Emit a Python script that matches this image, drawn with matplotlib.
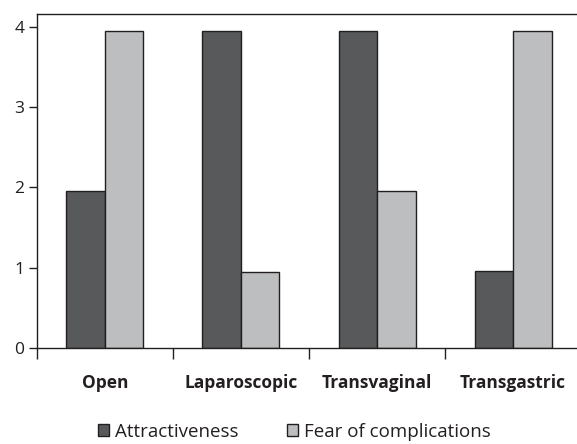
import matplotlib.pyplot as plt
import numpy as np

categories = ['Open', 'Laparoscopic', 'Transvaginal', 'Transgastric']
attractiveness = [1.96, 3.95, 3.95, 0.96]
fear = [3.95, 0.95, 1.96, 3.95]

plt.rcParams['font.family'] = ['Open Sans', 'DejaVu Sans']

fig = plt.figure(figsize=(5.77, 4.44), dpi=100)
ax = fig.add_axes([0.064, 0.216, 0.936, 0.753])

x = np.arange(len(categories))
w = 0.283
ax.bar(x - w / 2, attractiveness, w, color='#58595b', edgecolor='#231f20', linewidth=1,
       label='Attractiveness')
ax.bar(x + w / 2, fear, w, color='#bcbec0', edgecolor='#231f20', linewidth=1,
       label='Fear of complications')

ax.set_xlim(-0.5, 3.47)
ax.set_ylim(0, 4.16)
ax.set_yticks([0, 1, 2, 3, 4])
ax.set_xticks([-0.5, 0.5, 1.5, 2.5])
ax.set_xticklabels([])
ax.tick_params(axis='y', length=6, width=1, labelsize=12.5, pad=3, color='#231f20',
               labelcolor='#231f20')
ax.tick_params(axis='x', length=8, width=1, color='#231f20')
for c, xi in zip(categories, x):
    ax.text(xi, -0.44, c, ha='center', va='center', fontsize=12.5, fontweight='bold',
            color='#231f20')

ax.spines['right'].set_visible(False)
for s in ['left', 'top', 'bottom']:
    ax.spines[s].set_color('#231f20')
    ax.spines[s].set_linewidth(1)

fig.legend(loc='center', bbox_to_anchor=(0.51, 0.028), ncol=2, frameon=False,
           fontsize=13.5, handlelength=0.6, handleheight=0.6, handletextpad=0.3,
           columnspacing=2.6, labelcolor='#231f20')

fig.savefig('out.png', dpi=100)
